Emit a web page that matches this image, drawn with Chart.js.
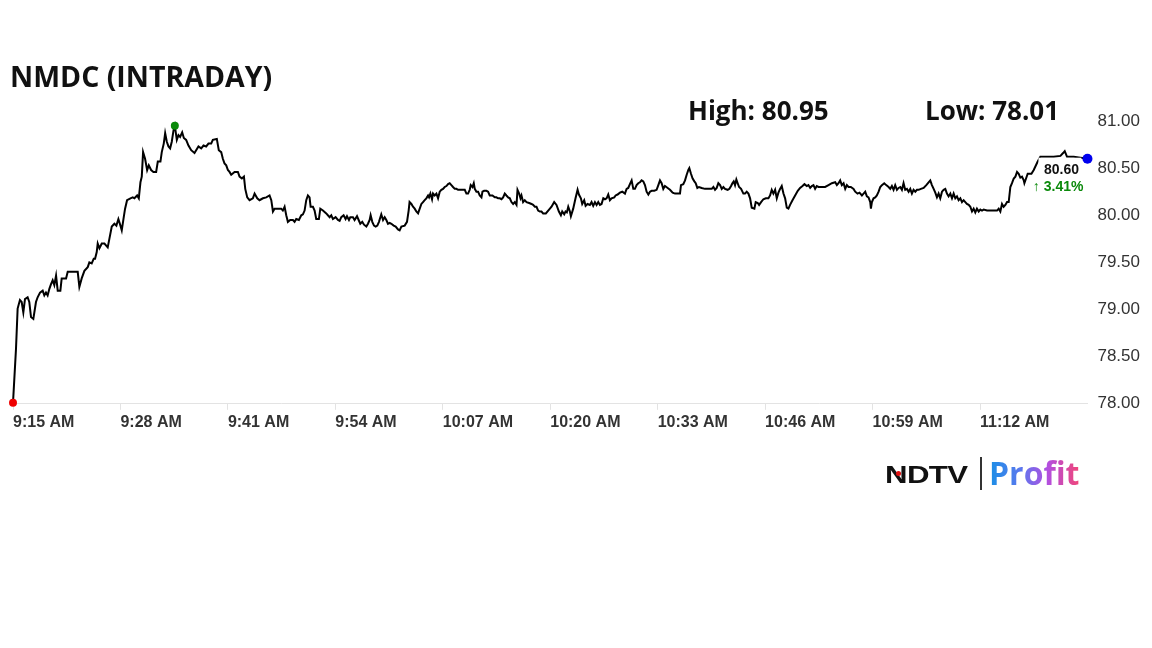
<!DOCTYPE html>
<html><head><meta charset="utf-8">
<script src="https://cdn.jsdelivr.net/npm/chart.js@4.4.1/dist/chart.umd.min.js"></script>
<style>
html,body{margin:0;padding:0;background:#fff;}
#wrap{position:relative;width:1152px;height:648px;overflow:hidden;background:#fff;}
#c{position:absolute;left:0;top:0;}
.t{position:absolute;font-family:'Open Sans',sans-serif;font-weight:700;color:#111;line-height:1;white-space:nowrap;}
#title{left:10px;top:62px;font-size:28.5px;}
#high{left:688px;top:97px;font-size:26px;}
#low{left:925px;top:97px;font-size:26px;}
#ndtv{position:absolute;left:885px;top:463px;font-family:'Liberation Sans',Arial,sans-serif;font-weight:700;font-size:24px;line-height:1;color:#111;transform:scaleX(1.3);transform-origin:left top;letter-spacing:-0.5px;}
#ndot{position:absolute;left:896px;top:471px;width:5px;height:5px;border-radius:50%;background:#e01010;}
#bar{position:absolute;left:980px;top:457px;width:2px;height:33px;background:#333;}
#profit{position:absolute;left:989px;top:457px;font-family:'Open Sans',sans-serif;font-weight:700;font-size:32px;line-height:1;background:linear-gradient(90deg,#1a8fe6 0%,#5a78ee 35%,#b24fe0 65%,#f0457a 100%);-webkit-background-clip:text;background-clip:text;color:transparent;}
</style></head>
<body>
<div id="wrap">
<canvas id="c" width="1152" height="648"></canvas>
<div class="t" id="title"></div>
<div class="t" id="high"></div>
<div class="t" id="low"></div>
<div id="ndtv">NDTV</div><div id="ndot"></div><div id="bar"></div><div id="profit">Profit</div>
</div>
<script>
// minutes after 9:15 AM and prices
const timesA = [
0.00,0.36,0.56,0.84,1.05,1.25,1.45,1.77,1.97,2.18,
2.46,2.78,2.98,3.27,3.59,3.79,3.99,4.19,4.40,4.60,
4.80,5.00,5.21,5.41,5.73,5.89,6.42,6.62,7.83,8.03,
8.31,8.64,9.04,9.24,9.52,9.77,9.93,10.13,10.25,10.46,
10.74,11.06,11.46,11.66,11.95,12.27,12.51,12.75,13.00,13.16,
13.40,13.56,13.80,14.21,14.49,14.69,15.02,15.22,15.42,15.58,
15.74,15.98,16.23,16.43,16.71,16.99,17.32,17.52,17.84,18.00,
18.24,18.41,18.61,18.81,19.01,19.21,19.42,19.58,19.82,20.02,
20.22,20.47,20.67,20.95,21.23,21.56,21.96,22.16,22.44,22.77,
23.05,23.37,23.65,23.98,24.18,24.66,24.90,25.19,25.39,25.59,
25.80,26.00,26.20,26.40,26.81,27.21,27.41,27.69,27.94,28.10,
28.34,28.62,29.02,29.23,29.55,29.83,30.24,30.64,31.04,31.25,
31.45];
const pricesA = [
78.01,78.58,79.01,79.10,79.08,78.97,79.11,79.13,79.08,78.92,
78.90,79.08,79.13,79.18,79.20,79.15,79.18,79.15,79.22,79.27,
79.31,79.26,79.36,79.20,79.20,79.33,79.33,79.40,79.40,79.24,
79.33,79.41,79.45,79.50,79.49,79.54,79.54,79.61,79.70,79.65,
79.70,79.70,79.66,79.75,79.88,79.91,79.89,79.96,79.89,79.84,
79.98,80.07,80.16,80.18,80.19,80.18,80.21,80.18,80.35,80.41,
80.67,80.60,80.48,80.53,80.48,80.46,80.46,80.57,80.57,80.67,
80.76,80.87,80.78,80.73,80.71,80.78,80.90,80.95,80.80,80.85,
80.83,80.88,80.82,80.80,80.74,80.69,80.66,80.69,80.73,80.71,
80.74,80.73,80.76,80.76,80.80,80.81,80.69,80.67,80.60,80.55,
80.53,80.48,80.46,80.43,80.46,80.46,80.41,80.39,80.41,80.28,
80.19,80.16,80.18,80.23,80.18,80.16,80.18,80.19,80.21,80.16,
80.04];
const timesB = [
31.65,32.05,32.45,32.65,32.86,33.06,33.26,33.54,33.87,34.07,
34.27,34.59,34.88,35.08,35.28,35.48,35.68,35.88,36.01,36.29,
36.49,36.69,37.01,37.18,37.50,37.90,38.10,38.31,38.51,38.71,
39.03,39.32,39.52,39.72,40.00,40.24,40.41,40.65,40.81,41.13,
41.33,41.62,41.82,42.02,42.26,42.47,42.75,42.95,43.15,43.27,
43.47,43.68,43.88,44.08,44.28,44.56,44.77,44.97,45.17,45.37,
45.57,45.78,46.06,46.30,46.58,46.78,46.99,47.39,47.67,47.87,
47.98,48.20,48.40,48.60,48.80,49.01,49.21,49.41,49.61,49.81,
50.01,50.22,50.34,50.50,50.70,50.82,51.02,51.23,51.43,51.63,
51.83,52.03,52.23,52.44,52.64,52.84,53.04,53.24,53.45,53.65,
53.85,54.25,54.66,54.86,55.06,55.26,55.38,55.59,55.75,55.87,
56.07,56.27,56.47,56.68,56.80,57.00,57.28,57.48,57.68,58.01,
58.29,58.49,58.69,58.90,59.10,59.30,59.50,59.70,59.91,60.11,
60.31,60.51,60.71,60.92,61.04,61.24,61.40,61.52,61.72,61.92,
62.13,62.45,62.73,62.93,63.14,63.34,63.54,63.74,63.94,64.14,
64.47];
const pricesB = [
80.07,80.07,80.07,80.05,80.09,80.00,79.93,79.95,79.95,79.93,
79.96,79.95,80.00,80.01,80.05,80.16,80.21,80.19,80.09,80.09,
80.05,79.96,79.96,80.07,80.05,80.02,80.00,79.98,80.00,79.96,
79.98,79.95,79.94,79.98,80.00,79.96,79.99,79.95,79.98,79.98,
79.95,79.99,79.95,79.91,79.93,79.90,79.88,79.91,79.95,80.00,
79.93,79.89,79.88,79.89,79.93,80.01,79.95,79.98,79.95,79.91,
79.92,79.91,79.89,79.88,79.85,79.84,79.88,79.89,79.93,80.05,
80.14,80.12,80.09,80.07,80.04,80.02,80.07,80.12,80.14,80.16,
80.18,80.21,80.19,80.23,80.17,80.23,80.21,80.23,80.18,80.25,
80.27,80.28,80.30,80.31,80.33,80.34,80.32,80.30,80.28,80.28,
80.27,80.27,80.27,80.23,80.23,80.27,80.32,80.30,80.34,80.28,
80.25,80.25,80.21,80.19,80.25,80.26,80.26,80.25,80.21,80.21,
80.19,80.19,80.18,80.18,80.17,80.19,80.23,80.21,80.19,80.18,
80.14,80.12,80.14,80.11,80.27,80.23,80.18,80.21,80.14,80.16,
80.14,80.13,80.12,80.11,80.09,80.09,80.05,80.04,80.04,80.02,
80.02];
const timesC = [
64.96,65.16,65.48,65.76,66.05,66.29,66.45,66.69,66.85,67.01,
67.18,67.38,67.50,67.78,68.06,68.31,68.47,68.71,68.87,69.11,
69.28,69.52,69.80,70.00,70.20,70.41,70.61,70.81,71.01,71.21,
71.42,71.62,71.82,72.02,72.22,72.42,72.75,72.91,73.15,73.43,
73.72,74.04,74.24,74.44,74.64,74.85,75.05,75.25,75.45,75.65,
75.86,76.06,76.26,76.46,76.66,76.87,77.07,77.27,77.59,77.87,
78.08,78.28,78.48,78.68,78.88,79.21,79.49,79.81,80.10,80.42,
80.70,80.82,81.10,81.31,81.51,81.71,81.83,82.03,82.23,82.44,
82.60,82.80,83.00,83.32,83.73,84.13,84.54,84.74,84.94,85.14,
85.34,85.55,85.75,85.95,86.15,86.47,86.68,86.88,87.04,87.20,
87.36,87.52,87.68,87.85,88.09,88.37,88.57,88.77,88.98,89.18,
89.38,89.70,89.86,90.11,90.27,90.51,90.79,91.08,91.40,91.60,
91.80,92.00,92.21,92.41,92.61,92.81,93.01,93.22,93.42,93.62,
93.82,94.02,94.31,94.63,94.95,95.23,95.52,95.76,96.04,96.24,
96.45,96.65,96.85,97.05,97.25,97.46,97.86,98.26];
const pricesC = [
80.07,80.09,80.14,80.11,80.04,80.00,80.04,80.01,80.04,80.03,
80.09,80.04,79.99,80.07,80.18,80.27,80.22,80.18,80.12,80.16,
80.10,80.12,80.11,80.14,80.10,80.14,80.11,80.14,80.11,80.12,
80.18,80.17,80.18,80.22,80.16,80.18,80.19,80.21,80.22,80.24,
80.25,80.23,80.28,80.29,80.33,80.37,80.28,80.28,80.32,80.34,
80.35,80.37,80.36,80.32,80.25,80.22,80.25,80.26,80.26,80.27,
80.32,80.37,80.34,80.28,80.31,80.29,80.27,80.24,80.23,80.23,
80.23,80.32,80.33,80.37,80.43,80.48,80.50,80.44,80.39,80.36,
80.34,80.29,80.30,80.29,80.28,80.28,80.28,80.30,80.27,80.29,
80.34,80.32,80.28,80.30,80.28,80.27,80.28,80.31,80.34,80.36,
80.32,80.38,80.34,80.30,80.28,80.23,80.23,80.25,80.23,80.18,
80.08,80.07,80.14,80.13,80.11,80.14,80.17,80.18,80.18,80.21,
80.27,80.23,80.27,80.18,80.24,80.28,80.31,80.23,80.18,80.08,
80.07,80.11,80.16,80.21,80.26,80.29,80.31,80.33,80.31,80.32,
80.29,80.31,80.32,80.28,80.31,80.30,80.30,80.30];
const timesD = [
98.67,99.07,99.48,99.68,99.88,100.08,100.28,100.49,100.69,100.89,
101.09,101.37,101.70,101.90,102.18,102.42,102.71,102.91,103.11,103.31,
103.51,103.72,103.80,103.92,104.12,104.32,104.52,104.73,104.93,105.13,
105.41,105.65,105.94,106.14,106.34,106.54,106.74,106.95,107.15,107.35,
107.55,107.75,107.95,108.16,108.36,108.56,108.76,108.96,109.17,109.37,
109.57,109.85,110.18,110.50,110.78,110.98,111.18,111.39,111.59,111.79,
111.99,112.19,112.40,112.60,112.80,113.00,113.20,113.41,113.61,113.81,
114.01,114.21,114.41,114.62,114.82,115.02,115.22,115.42,115.63,115.83,
116.03,116.23,116.43,116.63,116.84,117.04,117.24,117.44,117.85,118.25,
118.65,119.06,119.26,119.46,119.66,119.86,120.07,120.27,120.47,120.67,
120.87,121.08,121.28,121.48,121.68,121.88,122.08,122.29,122.37,122.77,
123.22,123.50,123.98,124.30,125.11,125.92,126.73,127.05,127.25,127.53,
128.34,129.15,130.00];
const pricesD = [
80.32,80.34,80.35,80.32,80.34,80.37,80.32,80.34,80.28,80.32,
80.30,80.30,80.28,80.25,80.23,80.24,80.21,80.23,80.25,80.20,
80.19,80.14,80.07,80.14,80.18,80.19,80.21,80.25,80.30,80.32,
80.34,80.32,80.30,80.28,80.31,80.27,80.32,80.27,80.29,80.30,
80.27,80.34,80.27,80.28,80.25,80.28,80.23,80.27,80.25,80.27,
80.27,80.28,80.29,80.32,80.35,80.37,80.32,80.28,80.24,80.19,
80.23,80.18,80.25,80.27,80.28,80.23,80.20,80.23,80.18,80.23,
80.18,80.20,80.16,80.18,80.14,80.16,80.14,80.12,80.11,80.09,
80.04,80.07,80.03,80.07,80.04,80.06,80.05,80.06,80.05,80.05,
80.05,80.05,80.07,80.04,80.12,80.09,80.11,80.14,80.14,80.30,
80.34,80.39,80.41,80.46,80.44,80.40,80.41,80.37,80.34,80.44,
80.44,80.48,80.57,80.62,80.62,80.62,80.63,80.66,80.68,80.62,
80.62,80.61,80.60];

const xTickMinutes = [0,13,26,39,52,65,78,91,104,117];
const xTickLabels = ['9:15 AM','9:28 AM','9:41 AM','9:54 AM','10:07 AM','10:20 AM','10:33 AM','10:46 AM','10:59 AM','11:12 AM'];
const yTickValues = [78.00,78.50,79.00,79.50,80.00,80.50,81.00];
const titleText = 'NMDC (INTRADAY)';
const highText = 'High: 80.95';
const lowText = 'Low: 78.01';
const lastPriceText = '80.60';
const changeText = '\u2191 3.41%';

document.getElementById('title').textContent = titleText;
document.getElementById('high').textContent = highText;
document.getElementById('low').textContent = lowText;

const times = timesA.concat(timesB, timesC, timesD);
const prices = pricesA.concat(pricesB, pricesC, pricesD);
const points = times.map((t, i) => ({x: t, y: prices[i]}));
const lastIdx = points.length - 1;
const highIdx = prices.indexOf(Math.max(...prices));
const lowIdx = prices.indexOf(Math.min(...prices));

const lastLabelPlugin = {
  id: 'lastLabel',
  afterDatasetsDraw(chart) {
    const meta = chart.getDatasetMeta(0);
    const p = meta.data[meta.data.length - 1];
    const ctx = chart.ctx;
    ctx.save();
    ctx.fillStyle = '#fff';
    ctx.fillRect(p.x - 49, p.y - 1, 43, 38);
    ctx.textBaseline = 'middle';
    ctx.font = 'bold 14px "Liberation Sans", Arial, sans-serif';
    ctx.fillStyle = '#111';
    ctx.textAlign = 'center';
    ctx.fillText(lastPriceText, p.x - 26, p.y + 11);
    ctx.fillStyle = '#0b8a0b';
    ctx.textAlign = 'right';
    ctx.fillText(changeText, p.x - 4, p.y + 28);
    ctx.restore();
  }
};

new Chart(document.getElementById('c'), {
  type: 'line',
  data: {
    datasets: [{
      data: points,
      borderColor: '#000',
      borderWidth: 2,
      tension: 0,
      clip: false,
      pointRadius: ctx => (ctx.dataIndex === lastIdx ? 5 : (ctx.dataIndex === highIdx || ctx.dataIndex === lowIdx) ? 4 : 0),
      pointBackgroundColor: ctx => (ctx.dataIndex === lastIdx ? '#0000ee' : ctx.dataIndex === highIdx ? '#0a8a0a' : '#ee0000'),
      pointBorderWidth: 0,
      pointHoverRadius: 0
    }]
  },
  options: {
    responsive: false,
    animation: false,
    events: [],
    layout: {padding: {left: 13, top: 121, right: 2, bottom: 213}},
    plugins: {legend: {display: false}, tooltip: {enabled: false}, title: {display: false}},
    scales: {
      x: {
        type: 'linear', min: 0, max: 130,
        afterBuildTicks: axis => { axis.ticks = xTickMinutes.map(v => ({value: v})); },
        ticks: {
          callback: v => xTickLabels[xTickMinutes.indexOf(v)],
          align: 'start', maxRotation: 0, autoSkip: false, padding: 3,
          color: '#333',
          font: {family: '"Liberation Sans", Arial, sans-serif', weight: 'bold', size: 16}
        },
        grid: {drawOnChartArea: false, drawTicks: true, tickLength: 6, color: '#e3e3e3'},
        border: {color: '#e3e3e3'}
      },
      y: {
        position: 'right', min: 78, max: 81,
        afterBuildTicks: axis => { axis.ticks = yTickValues.map(v => ({value: v})); },
        ticks: {
          callback: v => Number(v).toFixed(2),
          padding: 10, color: '#333',
          font: {family: '"Liberation Sans", Arial, sans-serif', size: 17}
        },
        grid: {display: false, drawTicks: false},
        border: {display: false}
      }
    }
  },
  plugins: [lastLabelPlugin]
});
</script>
</body></html>
